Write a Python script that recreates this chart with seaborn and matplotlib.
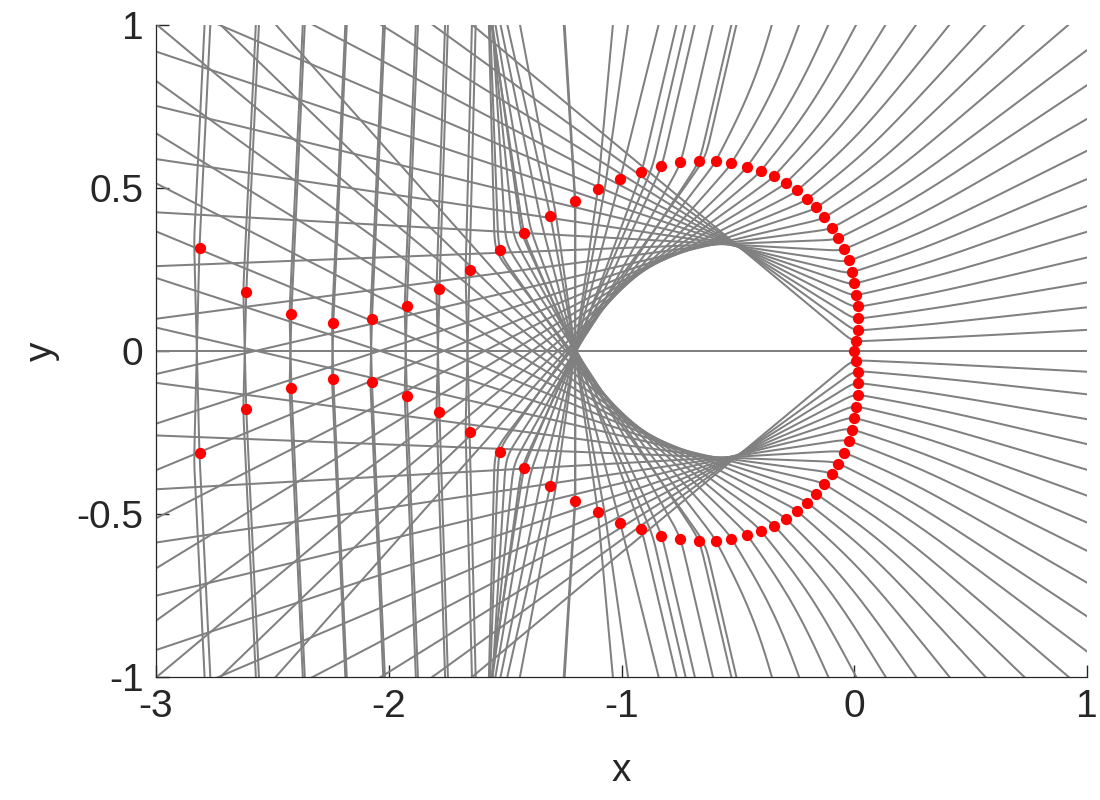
import numpy as np
import pandas as pd
import matplotlib
matplotlib.use("Agg")
import matplotlib.pyplot as plt
import seaborn as sns

# red points on the upper half, from the origin round to the tail
# (the lower half is the mirror image)
dot_x = [0.0, 0.008, 0.014, 0.015, 0.014, 0.008, 0.0, -0.010, -0.024, -0.046,
         -0.070, -0.096, -0.128, -0.163, -0.203, -0.246, -0.294, -0.344, -0.401,
         -0.461, -0.528, -0.595, -0.669, -0.748, -0.829, -0.915, -1.006, -1.102,
         -1.199, -1.306, -1.417, -1.521, -1.653, -1.782, -1.922, -2.072, -2.238,
         -2.418, -2.612, -2.813]
dot_y = [0.0, 0.031, 0.064, 0.100, 0.136, 0.172, 0.207, 0.242, 0.277, 0.312,
         0.346, 0.378, 0.410, 0.440, 0.466, 0.492, 0.516, 0.537, 0.553,
         0.565, 0.576, 0.583, 0.583, 0.578, 0.567, 0.548, 0.527, 0.496,
         0.460, 0.414, 0.361, 0.310, 0.248, 0.189, 0.138, 0.097, 0.085,
         0.113, 0.179, 0.315]

# upper edge of the empty lens that the gray lines wrap around
eye_x = [-1.20, -1.14, -1.09, -1.02, -0.95, -0.88, -0.80, -0.73, -0.66, -0.60,
         -0.55, -0.51, -0.48, -0.40, -0.30, -0.20, -0.10, 0.0, 0.004]
eye_y = [0.0, 0.07, 0.126, 0.18, 0.227, 0.262, 0.29, 0.309, 0.322, 0.331,
         0.333, 0.329, 0.322, 0.272, 0.209, 0.145, 0.081, 0.017, 0.0]

# direction (deg) a line settles to after it leaves the red curve, by x
bend_x = [-3.0, -2.0, -1.65, -1.52, -1.42, -1.31, -1.2, -1.0, -0.9, -0.62]
bend_deg = [86, 86.5, 88, 93, 102, 108, 95, 70, 72, 72]

xticks = [-3, -2, -1, 0, 1]
yticks = [-1, -0.5, 0, 0.5, 1]
ytick_labels = ["-1", "-0.5", "0", "0.5", "1"]
xtick_labels = ["-3", "-2", "-1", "0", "1"]


def chaikin(pts, n=4):
    for _ in range(n):
        a, b = pts[:-1], pts[1:]
        mid = np.empty((2 * len(a), 2))
        mid[0::2] = 0.75 * a + 0.25 * b
        mid[1::2] = 0.25 * a + 0.75 * b
        pts = np.vstack([pts[:1], mid, pts[-1:]])
    return pts


def wrap(a):
    return (a + 180.0) % 360.0 - 180.0


def sig(u):
    return 0.5 * (1.0 + np.tanh(u))


upper_eye = chaikin(np.column_stack([eye_x, eye_y]))
eye = np.vstack([upper_eye, upper_eye[::-1] * [1, -1]])

up = np.column_stack([dot_x, dot_y])
red_poly = np.vstack([up, [[-3.3, 0.8], [-3.3, -0.8]], (up[1:] * [1, -1])[::-1]])


def tangent_dir(p):
    ref = np.arctan2(-p[1], -0.6 - p[0])
    ang = np.arctan2(eye[:, 1] - p[1], eye[:, 0] - p[0])
    rel = (ang - ref + np.pi) % (2 * np.pi) - np.pi
    v = eye[np.argmin(rel)] - p
    return v / np.hypot(*v)


def first_hit(p, d):
    a = red_poly
    e = np.roll(red_poly, -1, axis=0) - a
    w = a - p
    den = d[0] * e[:, 1] - d[1] * e[:, 0]
    with np.errstate(divide="ignore", invalid="ignore"):
        t = (w[:, 0] * e[:, 1] - w[:, 1] * e[:, 0]) / den
        u = (w[:, 0] * d[1] - w[:, 1] * d[0]) / den
    ok = (np.abs(den) > 1e-12) & (t > 0.03) & (u >= 0) & (u <= 1)
    return t[ok].min() if ok.any() else None


def settle(pt):
    sgn = 1.0 if pt[1] >= 0 else -1.0
    if pt[0] > -0.62:
        psi = min(np.degrees(np.arctan2(abs(pt[1]), pt[0] + 0.8)), 72.0)
    else:
        psi = np.interp(pt[0], bend_x, bend_deg)
    return sgn * psi


def bends(pt, base):
    # (turn, centre, width) pieces for the part of a line outside the red curve
    psi = settle(pt)
    if abs(wrap(psi - base)) > 50:
        return []
    if pt[0] > -0.62:
        return [(wrap(0.75 * psi - base), -0.01, 0.025), (0.25 * psi, 0.3, 0.2)]
    return [(wrap(psi - base), 0.0, 0.035)]


def build(p):
    if p[0] < -1.6:
        d = np.array([np.cos(np.radians(-92)), np.sin(np.radians(-92))])
    else:
        d = tangent_dir(p)
    phi = np.degrees(np.arctan2(-d[1], -d[0]))
    c = first_hit(p, d)
    step = 0.005
    s = np.arange(-((c or 0.0) + 4.5), 4.5, step)
    ang = np.full_like(s, phi)
    for turn, s0, wd in bends(p, phi):
        ang += turn * sig((s - s0) / wd)
    if c is not None:
        E = p + c * d
        for turn, s0, wd in bends(E, phi + 180.0):
            ang += turn * sig((-c - s - s0) / wd)
    ang = np.radians(ang)
    x = np.cumsum(np.cos(ang) * step)
    y = np.cumsum(np.sin(ang) * step)
    i0 = np.argmin(np.abs(s))
    return x - x[i0] + p[0], y - y[i0] + p[1]


frames = []
k = 0
for p in up[1:]:
    cx, cy = build(p)
    for sy in (1, -1):
        frames.append(pd.DataFrame({"x": cx, "y": sy * cy, "curve": k}))
        k += 1
frames.append(pd.DataFrame({"x": [-3.5, 1.5], "y": [0.0, 0.0], "curve": k}))
curves = pd.concat(frames, ignore_index=True)

dots = pd.DataFrame({"x": np.concatenate([dot_x, dot_x[1:]]),
                     "y": np.concatenate([dot_y, -np.array(dot_y[1:])])})

sns.set_style("ticks")
plt.rcParams["font.family"] = ["Liberation Sans", "DejaVu Sans"]

fig = plt.figure(figsize=(11, 8), dpi=100)
ax = fig.add_axes([0.1418, 0.154, 0.8464, 0.815])

sns.lineplot(data=curves, x="x", y="y", units="curve", estimator=None,
             sort=False, color="0.5", linewidth=1.45, legend=False, ax=ax)
sns.scatterplot(data=dots, x="x", y="y", color="red", s=66, linewidth=0,
                zorder=3, ax=ax)

ax.set_xlim(-3, 1)
ax.set_ylim(-1, 1)
ax.set_xticks(xticks)
ax.set_xticklabels(xtick_labels)
ax.set_yticks(yticks)
ax.set_yticklabels(ytick_labels)
ax.tick_params(direction="in", length=9, width=1, color="0.15",
               labelcolor="0.15", labelsize=28, pad=9)
for side in ("top", "right"):
    ax.spines[side].set_visible(False)
for side in ("left", "bottom"):
    ax.spines[side].set_color("0.15")
    ax.spines[side].set_linewidth(0.9)
ax.set_xlabel("x", fontsize=28, color="0.15", labelpad=20)
ax.set_ylabel("y", fontsize=28, color="0.15", labelpad=12)

fig.savefig("out.png", dpi=100)
